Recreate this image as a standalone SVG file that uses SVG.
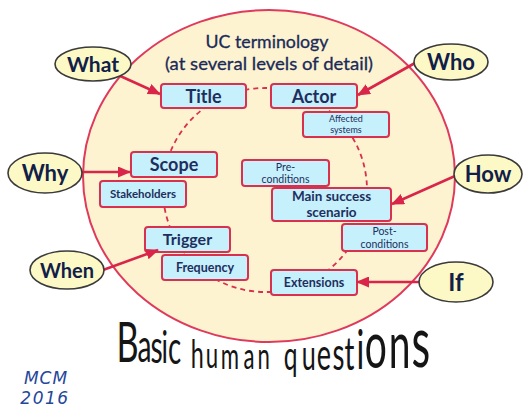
<svg xmlns="http://www.w3.org/2000/svg" width="523" height="408" viewBox="0 0 523 408">
<defs>
<marker id="ah" markerUnits="userSpaceOnUse" markerWidth="13" markerHeight="11" refX="12" refY="5.5" orient="auto">
<path d="M0,0 L13,5.5 L0,11 z" fill="#D9254A"/>
</marker>
<style>
.box{fill:#C6F0FC;stroke:#D8304F;stroke-width:2}
.q{fill:#FDF9C6;stroke:#3A3A3A;stroke-width:1.6}
.qt{font-family:Lato,"Liberation Sans",sans-serif;font-weight:bold;fill:#102048;text-anchor:middle}
.bt{font-family:Lato,"Liberation Sans",sans-serif;font-weight:bold;fill:#1E2F5E;text-anchor:middle}
.st{font-family:Lato,"Liberation Sans",sans-serif;fill:#1E2F5E;text-anchor:middle}
.arr{stroke:#D9254A;stroke-width:2.6;fill:none;marker-end:url(#ah)}
</style>
</defs>
<rect width="523" height="408" fill="#FFFFFF"/>
<ellipse id="frame" cx="269" cy="176" rx="186" ry="166" fill="#FDF3D0" stroke="#DF3A5C" stroke-width="2"/>
<text x="267" y="48" font-family="Lato,'Liberation Sans',sans-serif" font-size="17.5" fill="#1A2A58" stroke="#1A2A58" stroke-width="0.3" text-anchor="middle" textLength="123" lengthAdjust="spacingAndGlyphs">UC terminology</text>
<text x="269" y="70" font-family="Lato,'Liberation Sans',sans-serif" font-size="17.5" fill="#1A2A58" stroke="#1A2A58" stroke-width="0.3" text-anchor="middle" textLength="208" lengthAdjust="spacingAndGlyphs">(at several levels of detail)</text>
<g id="connectors">
<circle cx="265" cy="190" r="102" fill="none" stroke="#D8304F" stroke-width="1.8" stroke-dasharray="5 4"/>
</g>
<g id="n-title"><rect class="box" x="161" y="84" width="85" height="24" rx="3"/><text class="bt" x="203.5" y="102.5" font-size="18">Title</text></g>
<g id="n-actor"><rect class="box" x="271" y="84" width="86" height="24" rx="3"/><text class="bt" x="314" y="102.5" font-size="18">Actor</text></g>
<g id="n-affected"><rect class="box" x="303" y="112" width="86" height="25" rx="3"/><text class="st" x="346" y="122" font-size="9">Affected</text><text class="st" x="346" y="133" font-size="9">systems</text></g>
<g id="n-scope"><rect class="box" x="131" y="152" width="86" height="25" rx="3"/><text class="bt" x="174" y="171" font-size="18">Scope</text></g>
<g id="n-stakeholders"><rect class="box" x="100" y="181" width="86" height="26" rx="3"/><text class="bt" x="143" y="198" font-size="11.5">Stakeholders</text></g>
<g id="n-pre"><rect class="box" x="242" y="160" width="87" height="26" rx="3"/><text class="st" x="285.5" y="171" font-size="10.5">Pre-</text><text class="st" x="285.5" y="183" font-size="10.5">conditions</text></g>
<g id="n-main"><rect class="box" x="272" y="188" width="119" height="33" rx="3"/><text class="bt" x="331.5" y="201" font-size="13.5">Main success</text><text class="bt" x="331.5" y="217" font-size="13.5">scenario</text></g>
<g id="n-post"><rect class="box" x="342" y="224" width="85" height="27" rx="3"/><text class="st" x="384.5" y="235" font-size="10.5">Post-</text><text class="st" x="384.5" y="248" font-size="10.5">conditions</text></g>
<g id="n-trigger"><rect class="box" x="145" y="227" width="85" height="25" rx="3"/><text class="bt" x="187.5" y="245" font-size="16">Trigger</text></g>
<g id="n-frequency"><rect class="box" x="162" y="255" width="86" height="25" rx="3"/><text class="bt" x="205" y="272" font-size="12.5">Frequency</text></g>
<g id="n-extensions"><rect class="box" x="271" y="270" width="86" height="25" rx="3"/><text class="bt" x="314" y="287" font-size="12.5">Extensions</text></g>
<g id="arrows">
<line class="arr" x1="118" y1="75" x2="160" y2="94"/>
<line class="arr" x1="415" y1="63" x2="358" y2="95"/>
<line class="arr" x1="82" y1="172" x2="130" y2="172"/>
<line class="arr" x1="455" y1="176" x2="392" y2="204"/>
<line class="arr" x1="103" y1="270" x2="158" y2="250"/>
<line class="arr" x1="420" y1="282" x2="357" y2="282"/>
</g>
<g id="q-what"><ellipse class="q" cx="93" cy="64" rx="38" ry="17"/><text class="qt" x="93" y="71.5" font-size="21">What</text></g>
<g id="q-who"><ellipse class="q" cx="451" cy="62" rx="37" ry="18"/><text class="qt" x="451" y="70" font-size="22">Who</text></g>
<g id="q-why"><ellipse class="q" cx="45" cy="173" rx="37" ry="20"/><text class="qt" x="45" y="181" font-size="22">Why</text></g>
<g id="q-how"><ellipse class="q" cx="488" cy="174" rx="34" ry="19"/><text class="qt" x="488" y="182" font-size="22">How</text></g>
<g id="q-when"><ellipse class="q" cx="67" cy="270" rx="37" ry="19"/><text class="qt" x="67" y="277.5" font-size="20">When</text></g>
<g id="q-if"><ellipse class="q" cx="456" cy="282" rx="37" ry="20"/><text class="qt" x="456" y="291" font-size="24">If</text></g>
<text transform="scale(0.6,1)" font-family="Lato,'Liberation Sans',sans-serif" fill="#151515"><tspan x="194" y="362" font-size="57">B</tspan><tspan x="229" y="362" font-size="47">a</tspan><tspan x="251" y="363" font-size="47">s</tspan><tspan x="269" y="363" font-size="45">i</tspan><tspan x="280" y="364" font-size="46">c</tspan> <tspan x="318" y="368" font-size="39">h</tspan><tspan x="343" y="368" font-size="37">u</tspan><tspan x="368" y="369" font-size="37">m</tspan><tspan x="406" y="369" font-size="37">a</tspan><tspan x="429" y="369" font-size="37">n</tspan> <tspan x="473" y="370" font-size="41">q</tspan><tspan x="503" y="370" font-size="42">u</tspan><tspan x="528" y="370" font-size="45">e</tspan><tspan x="554" y="370" font-size="46">s</tspan><tspan x="574" y="370" font-size="46">t</tspan><tspan x="594" y="369" font-size="54">i</tspan><tspan x="608" y="368" font-size="65">o</tspan><tspan x="648" y="368" font-size="65">n</tspan><tspan x="686" y="367" font-size="72">s</tspan></text>
<text x="46" y="384" font-family="'DejaVu Sans',sans-serif" font-style="italic" font-size="17" fill="#24479A" text-anchor="middle" letter-spacing="1">MCM</text>
<text x="45" y="404" font-family="'DejaVu Sans',sans-serif" font-style="italic" font-size="17" fill="#24479A" text-anchor="middle" letter-spacing="1.5">2016</text>
</svg>
